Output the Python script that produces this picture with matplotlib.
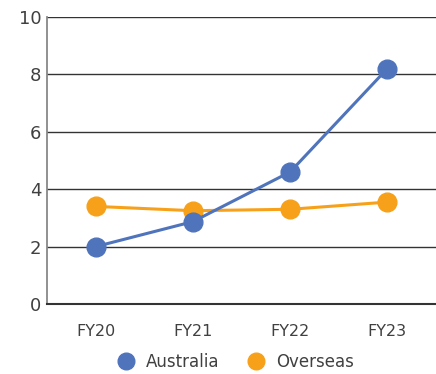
import matplotlib.pyplot as plt
from matplotlib.lines import Line2D

years = ['FY20', 'FY21', 'FY22', 'FY23']
australia = [2.0, 2.87, 4.6, 8.2]
overseas = [3.4, 3.25, 3.3, 3.55]

blue = '#4F74BC'
orange = '#F7A11A'
text_color = '#404040'

plt.rcParams['font.family'] = 'DejaVu Sans'

fig = plt.figure(figsize=(4.36, 3.74), dpi=100)
ax = fig.add_axes([0.108, 0.187, 0.892, 0.768])

x = list(range(len(years)))
ax.plot(x, overseas, color=orange, lw=2.2, marker='o', ms=13.5, zorder=3)
ax.plot(x, australia, color=blue, lw=2.2, marker='o', ms=13.5, zorder=4)

ax.set_xlim(-0.5, 3.5)
ax.set_ylim(0, 10)
ax.set_yticks(range(0, 11, 2))
ax.set_xticks(x)
ax.set_xticklabels(years)
ax.yaxis.grid(True, color='#333333', lw=1.0)
ax.set_axisbelow(True)

for side in ['top', 'right']:
    ax.spines[side].set_visible(False)
ax.spines['left'].set_color('#888888')
ax.spines['left'].set_linewidth(1.3)
ax.spines['bottom'].set_color('#333333')
ax.spines['bottom'].set_linewidth(1.5)

ax.tick_params(axis='y', length=0, pad=4, labelsize=13, labelcolor=text_color)
ax.tick_params(axis='x', length=0, pad=14, labelsize=11.5, labelcolor=text_color)

handles = [
    Line2D([], [], ls='none', marker='o', ms=12, color=blue, label='Australia'),
    Line2D([], [], ls='none', marker='o', ms=12, color=orange, label='Overseas'),
]
fig.legend(handles=handles, loc='center', bbox_to_anchor=(0.532, 0.032), ncol=2,
           frameon=False, fontsize=12, handletextpad=0.2, columnspacing=1.2,
           labelcolor=text_color)

fig.savefig('out.png', dpi=100)
